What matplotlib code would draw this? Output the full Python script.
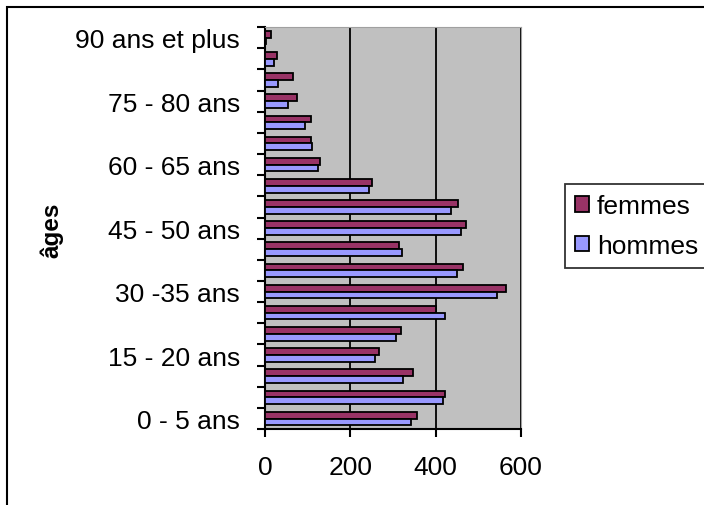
import matplotlib
matplotlib.use('Agg')
import matplotlib.pyplot as plt
from matplotlib.patches import Rectangle
import numpy as np

plt.rcParams['font.family'] = ['Liberation Sans', 'DejaVu Sans']

# age groups, bottom to top
ages = ['0 - 5 ans', '5 - 10 ans', '10 - 15 ans', '15 - 20 ans', '20 - 25 ans',
        '25 - 30 ans', '30 -35 ans', '35 - 40 ans', '40 - 45 ans', '45 - 50 ans',
        '50 - 55 ans', '55 - 60 ans', '60 - 65 ans', '65 - 70 ans', '70 - 75 ans',
        '75 - 80 ans', '80 - 85 ans', '85 - 90 ans', '90 ans et plus']
femmes = [357, 422, 348, 267, 319, 400, 565, 465, 315, 471,
          452, 252, 130, 107, 107, 74, 65, 27, 13]
hommes = [343, 418, 324, 257, 306, 423, 545, 451, 322, 460,
          437, 243, 125, 111, 93, 54, 31, 22, 2]
xticks = [0, 200, 400, 600]

fs = 19

fig = plt.figure(figsize=(7.04, 5.06), dpi=100)
ax = fig.add_axes([0.3764, 0.150, 0.3636, 0.7945])

y = np.arange(len(ages))
h = 0.32
ax.barh(y + h / 2, femmes, height=h, color='#993366', edgecolor='black', linewidth=1.3, label='femmes', zorder=3)
ax.barh(y - h / 2, hommes, height=h, color='#9999FF', edgecolor='black', linewidth=1.3, label='hommes', zorder=3)

ax.set_facecolor('#C0C0C0')
ax.set_xlim(0, 600)
ax.set_ylim(-0.5, len(ages) - 0.5)
ax.set_xticks(xticks)
ax.set_xticklabels([str(v) for v in xticks], fontsize=fs)
ax.xaxis.grid(True, color='black', linewidth=1.3, zorder=1)
ax.set_axisbelow(True)

# labels every third group, tick marks at group boundaries
ax.set_yticks(y[::3])
ax.set_yticklabels(ages[::3], fontsize=fs)
ax.tick_params(axis='y', length=0, pad=18)
ax.set_yticks(np.arange(-0.5, len(ages)), minor=True)
ax.tick_params(axis='y', which='minor', length=6, width=1.5, direction='out')
ax.tick_params(axis='x', length=5.5, width=1.5, direction='out', pad=13)

ax.spines['left'].set_linewidth(1.5)
ax.spines['bottom'].set_linewidth(1.5)
ax.spines['top'].set_color('#A0A0A0')
ax.spines['right'].set_color('#A0A0A0')

fig.text(52 / 704, 1 - 230 / 506, 'âges', rotation=90, fontsize=17.5, fontweight='bold', ha='center', va='center')

leg = fig.legend(loc='upper left', bbox_to_anchor=(565 / 704, 1 - 185 / 506), fontsize=fs, frameon=True,
                 fancybox=False, edgecolor='black', handlelength=0.53, handleheight=0.55,
                 handletextpad=0.3, borderpad=0.38, borderaxespad=0, labelspacing=0.6)
leg.get_frame().set_linewidth(1.3)

fig.patches.append(Rectangle((7 / 704, -0.1), 1.2, 1.1 - 8 / 506, transform=fig.transFigure,
                             fill=False, edgecolor='black', linewidth=1.5))

fig.savefig('out.png', dpi=100)
